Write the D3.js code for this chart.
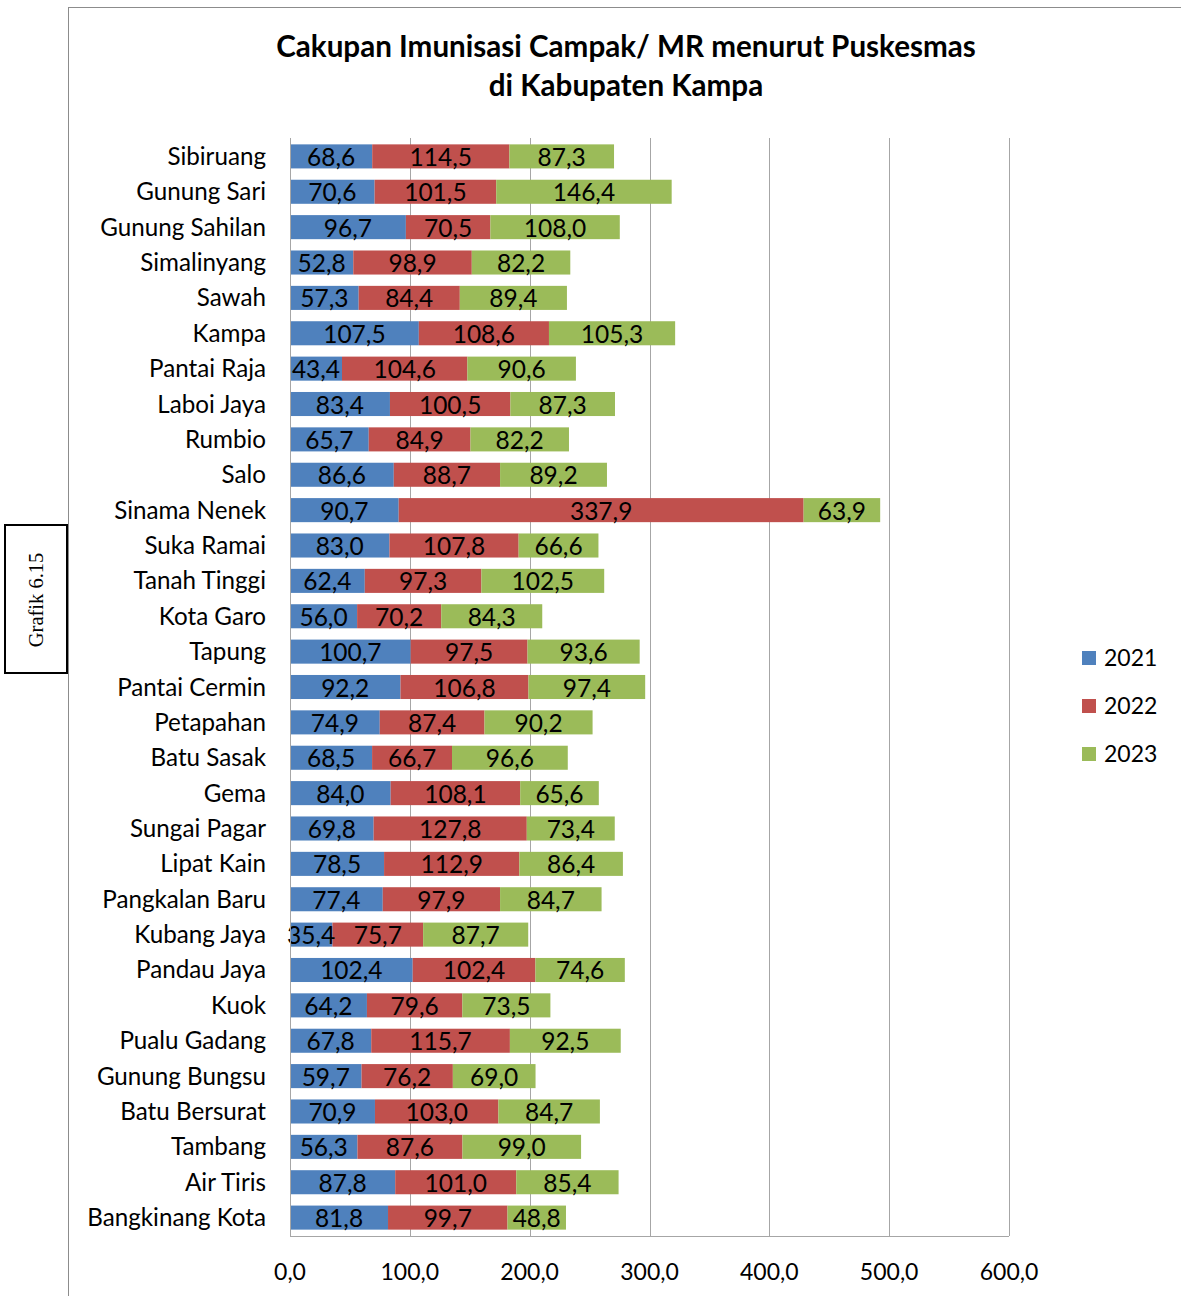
<!DOCTYPE html>
<html><head><meta charset="utf-8">
<script src="https://cdn.jsdelivr.net/npm/d3@7"></script>
<style>body{margin:0;background:#fff;} svg{display:block;}</style>
</head><body>
<svg id="c" width="1181" height="1296"></svg>
<script>
const categories = ["Sibiruang","Gunung Sari","Gunung Sahilan","Simalinyang","Sawah","Kampa","Pantai Raja","Laboi Jaya","Rumbio","Salo","Sinama Nenek","Suka Ramai","Tanah Tinggi","Kota Garo","Tapung","Pantai Cermin","Petapahan","Batu Sasak","Gema","Sungai Pagar","Lipat Kain","Pangkalan Baru","Kubang Jaya","Pandau Jaya","Kuok","Pualu Gadang","Gunung Bungsu","Batu Bersurat","Tambang","Air Tiris","Bangkinang Kota"];
const years = ["2021","2022","2023"];
const v2021 = [68.6,70.6,96.7,52.8,57.3,107.5,43.4,83.4,65.7,86.6,90.7,83.0,62.4,56.0,100.7,92.2,74.9,68.5,84.0,69.8,78.5,77.4,35.4,102.4,64.2,67.8,59.7,70.9,56.3,87.8,81.8];
const v2022 = [114.5,101.5,70.5,98.9,84.4,108.6,104.6,100.5,84.9,88.7,337.9,107.8,97.3,70.2,97.5,106.8,87.4,66.7,108.1,127.8,112.9,97.9,75.7,102.4,79.6,115.7,76.2,103.0,87.6,101.0,99.7];
const v2023 = [87.3,146.4,108.0,82.2,89.4,105.3,90.6,87.3,82.2,89.2,63.9,66.6,102.5,84.3,93.6,97.4,90.2,96.6,65.6,73.4,86.4,84.7,87.7,74.6,73.5,92.5,69.0,84.7,99.0,85.4,48.8];
const xTicks = [0,100,200,300,400,500,600];
const colors = ["#4F81BD","#C0504D","#9BBB59"];

(function(){
const font = "Lato, 'Open Sans', sans-serif";
const svg = d3.select("#c");

svg.append("line").attr("x1",68.5).attr("x2",68.5).attr("y1",7).attr("y2",1296).attr("stroke","#8c8c8c").attr("stroke-width",1);
svg.append("line").attr("x1",68).attr("x2",1181).attr("y1",7.5).attr("y2",7.5).attr("stroke","#8c8c8c").attr("stroke-width",1);

svg.append("rect").attr("x",5).attr("y",525).attr("width",62).attr("height",148).attr("fill","#fff").attr("stroke","#000").attr("stroke-width",2);
svg.append("text").attr("transform","translate(43,600) rotate(-90)").attr("text-anchor","middle")
  .attr("font-family","'Liberation Serif', serif").attr("font-size",20.5).text("Grafik 6.15");

const title = svg.append("text").attr("text-anchor","middle").attr("font-family",font).attr("font-weight","bold").attr("font-size",29.6).attr("fill","#000");
title.append("tspan").attr("x",626).attr("y",57).text("Cakupan Imunisasi Campak/ MR menurut Puskesmas");
title.append("tspan").attr("x",626).attr("y",96).text("di Kabupaten Kampa");

const pL = 290, pR = 1009, pT = 138, pB = 1236;
const x = d3.scaleLinear().domain([0,600]).range([pL,pR]);
const y = d3.scaleBand().domain(categories).range([pT,pB]).paddingInner(0.32).paddingOuter(0.18);

svg.append("g").selectAll("line").data(xTicks.slice(1)).join("line")
  .attr("x1",d=>Math.round(x(d))+0.5).attr("x2",d=>Math.round(x(d))+0.5)
  .attr("y1",pT).attr("y2",pB).attr("stroke","#a6a6a6").attr("stroke-width",1);

const rows = categories.map((c,i)=>({c, vals:[v2021[i],v2022[i],v2023[i]]}));
const segs = [];
rows.forEach(r=>{ let s=0; r.vals.forEach((v,k)=>{ segs.push({c:r.c,k,v,x0:s,x1:s+v}); s+=v; }); });

svg.append("g").selectAll("rect").data(segs).join("rect")
  .attr("x",d=>x(d.x0)).attr("width",d=>x(d.x1)-x(d.x0))
  .attr("y",d=>y(d.c)).attr("height",y.bandwidth())
  .attr("fill",d=>colors[d.k]);

svg.append("g").selectAll("text").data(segs).join("text")
  .attr("x",d=>(x(d.x0)+x(d.x1))/2).attr("y",d=>y(d.c)+y.bandwidth()/2+9.5)
  .attr("text-anchor","middle").attr("font-family",font).attr("font-size",24.5).attr("fill","#000")
  .text(d=>d3.format(".1f")(d.v).replace(".",","));

svg.append("line").attr("x1",pL).attr("x2",pR).attr("y1",pB+0.5).attr("y2",pB+0.5).attr("stroke","#a6a6a6");
svg.append("line").attr("x1",pL+0.5).attr("x2",pL+0.5).attr("y1",pT).attr("y2",pB).attr("stroke","#a6a6a6");

svg.append("g").selectAll("text").data(xTicks).join("text")
  .attr("x",d=>x(d)).attr("y",1280).attr("text-anchor","middle")
  .attr("font-family",font).attr("font-size",23).attr("fill","#000")
  .text(d=>d3.format(".1f")(d).replace(".",","));

svg.append("g").selectAll("text").data(categories).join("text")
  .attr("x",266).attr("y",d=>y(d)+y.bandwidth()/2+8.5).attr("text-anchor","end")
  .attr("font-family",font).attr("font-size",24.2).attr("fill","#000").text(d=>d);

const lg = svg.append("g").selectAll("g").data(years).join("g")
  .attr("transform",(d,i)=>`translate(1082,${651+i*48})`);
lg.append("rect").attr("width",14).attr("height",14).attr("fill",(d,i)=>colors[i]);
lg.append("text").attr("x",22).attr("y",15).attr("font-family",font).attr("font-size",23).attr("fill","#000").text(d=>d);
})();
</script>
</body></html>
